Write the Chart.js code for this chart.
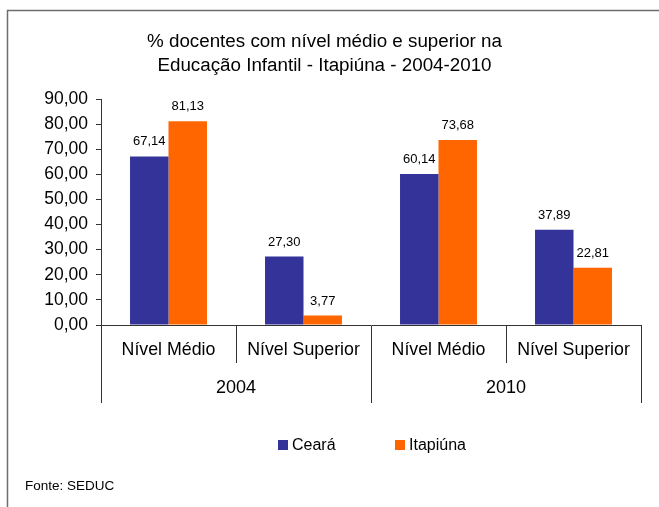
<!DOCTYPE html>
<html><head><meta charset="utf-8">
<script src="https://cdn.jsdelivr.net/npm/chart.js@4"></script>
<style>html,body{margin:0;padding:0;background:#fff}canvas{display:block}</style>
</head><body>
<canvas id="c" width="659" height="507"></canvas>
<script>
const categories = ['Nível Médio', 'Nível Superior', 'Nível Médio', 'Nível Superior'];
const years = ['2004', '2010'];
const seriesNames = ['Ceará', 'Itapiúna'];
const ceara = [67.14, 27.30, 60.14, 37.89];
const itapiuna = [81.13, 3.77, 73.68, 22.81];
const titleLines = ['% docentes com nível médio e superior na', 'Educação Infantil - Itapiúna - 2004-2010'];
const sourceText = 'Fonte: SEDUC';

const FONT = "'Liberation Sans', Arial, sans-serif";
const AXIS = '#333333';
const fmt = v => v.toFixed(2).replace('.', ',');

const decor = {
  id: 'decor',
  beforeDraw(chart) {
    const ctx = chart.ctx;
    ctx.save();
    ctx.fillStyle = '#fff';
    ctx.fillRect(0, 0, chart.width, chart.height);
    ctx.strokeStyle = '#6e6e6e';
    ctx.lineWidth = 1.5;
    ctx.beginPath();
    ctx.moveTo(7.5, chart.height);
    ctx.lineTo(7.5, 10.5);
    ctx.lineTo(chart.width, 10.5);
    ctx.stroke();
    ctx.restore();
  },
  afterDatasetsDraw(chart) {
    const ctx = chart.ctx;
    ctx.save();
    ctx.font = '13px ' + FONT;
    ctx.fillStyle = '#000';
    ctx.textAlign = 'center';
    ctx.textBaseline = 'middle';
    chart.data.datasets.forEach((ds, i) => {
      chart.getDatasetMeta(i).data.forEach((el, j) => {
        ctx.fillText(fmt(ds.data[j]), el.x, el.y - 14.5);
      });
    });
    ctx.restore();
  },
  afterDraw(chart) {
    const ctx = chart.ctx;
    ctx.save();
    // legend
    const starts = [278, 395];
    ctx.font = '16px ' + FONT;
    ctx.textBaseline = 'middle';
    ctx.textAlign = 'left';
    chart.data.datasets.forEach((ds, i) => {
      const x = starts[i];
      ctx.fillStyle = ds.backgroundColor;
      ctx.fillRect(x, 440, 10, 10);
      ctx.fillStyle = '#000';
      ctx.fillText(ds.label, x + 14, 445.5);
    });
    // source
    ctx.font = '13.5px ' + FONT;
    ctx.fillText(sourceText, 25, 486);
    ctx.restore();
  }
};

new Chart(document.getElementById('c'), {
  type: 'bar',
  data: {
    labels: categories,
    datasets: [
      { label: seriesNames[0], data: ceara, backgroundColor: '#333399', xAxisID: 'x', barPercentage: 1, categoryPercentage: 0.57 },
      { label: seriesNames[1], data: itapiuna, backgroundColor: '#FF6600', xAxisID: 'x', barPercentage: 1, categoryPercentage: 0.57 }
    ]
  },
  options: {
    responsive: false,
    animation: false,
    devicePixelRatio: 1,
    layout: { padding: { left: 8, right: 18, top: 18, bottom: 104 } },
    plugins: {
      legend: { display: false },
      tooltip: { enabled: false },
      title: {
        display: true,
        text: titleLines,
        color: '#000',
        font: { family: FONT, size: 18.8, weight: 'normal', lineHeight: 24 / 18.8 },
        padding: { top: 12, bottom: 21 }
      }
    },
    scales: {
      y: {
        min: 0, max: 90,
        ticks: { stepSize: 10, callback: v => fmt(v), color: '#000', font: { family: FONT, size: 17.5 }, padding: 8 },
        grid: { drawOnChartArea: false, tickLength: 5, color: AXIS },
        border: { color: AXIS },
        afterFit: s => { s.width = 93; }
      },
      x: {
        type: 'category',
        position: 'bottom',
        offset: true,
        grid: { offset: true, drawOnChartArea: false, tickLength: 38, color: AXIS },
        border: { color: AXIS },
        ticks: { color: '#000', font: { family: FONT, size: 17.8 }, padding: -23.5, maxRotation: 0, autoSkip: false },
        afterFit: s => { s.height = 38; }
      },
      x2: {
        type: 'category',
        labels: years,
        position: 'bottom',
        offset: true,
        grid: { offset: true, drawOnChartArea: false, tickLength: 40, color: AXIS },
        border: { display: false },
        ticks: { color: '#000', font: { family: FONT, size: 18 }, padding: -26, maxRotation: 0, autoSkip: false },
        afterFit: s => { s.height = 40; }
      }
    }
  },
  plugins: [decor]
});
</script>
</body></html>
